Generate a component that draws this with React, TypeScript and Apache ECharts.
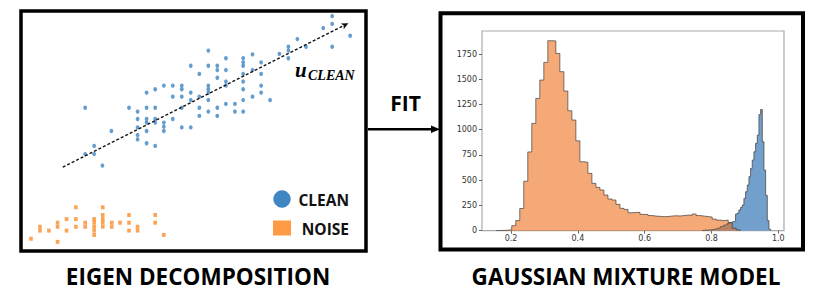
import React, { useEffect, useRef } from "react";
import * as echarts from "echarts";

// ---- Left panel: eigen decomposition scatter (feature space units 0..100) ----
const cleanX = [90.2, 90.2, 87.6, 95.4, 90.2, 80.1, 82.6, 77.5, 77.5, 74.9, 77.5, 54.3, 59.4, 64.4, 67.1, 64.4, 64.4, 69.6, 49.2, 54.3, 56.9, 56.9, 59.4, 67.1, 51.7, 56.9, 64.4, 69.6, 59.4, 64.4, 41.4, 44.0, 46.6, 46.6, 54.3, 54.3, 49.2, 59.4, 69.6, 36.4, 38.9, 54.3, 64.4, 69.6, 44.0, 46.6, 49.2, 51.7, 54.3, 67.1, 72.2, 64.4, 18.6, 31.3, 36.4, 38.9, 46.6, 51.7, 56.9, 59.4, 62.0, 62.0, 64.4, 33.8, 33.8, 36.4, 38.9, 41.4, 44.0, 36.4, 51.7, 54.3, 56.9, 46.6, 49.2, 33.8, 33.8, 33.8, 36.4, 38.9, 41.4, 41.4, 26.2, 36.4, 38.9, 21.2, 18.6, 21.2, 23.6];
const cleanY = [97.9, 94.6, 92.9, 89.7, 85.1, 88.3, 85.1, 85.1, 83.5, 82.1, 80.3, 83.5, 80.3, 80.3, 81.9, 78.6, 77.2, 78.6, 77.2, 77.2, 77.2, 75.4, 75.4, 75.4, 73.8, 72.2, 73.8, 73.8, 70.6, 70.6, 68.9, 68.9, 68.9, 67.4, 68.9, 67.4, 66.0, 68.9, 68.9, 66.0, 67.4, 66.0, 67.4, 66.0, 64.3, 64.3, 62.9, 64.3, 62.9, 64.3, 62.9, 62.9, 59.7, 59.7, 59.7, 59.7, 59.7, 59.7, 59.7, 61.3, 61.3, 58.1, 58.1, 58.1, 55.0, 55.0, 55.0, 53.5, 55.0, 53.5, 56.3, 58.1, 56.3, 51.5, 51.5, 51.5, 48.3, 46.5, 50.0, 53.5, 51.8, 50.0, 50.0, 44.9, 43.8, 43.8, 40.4, 40.4, 35.6];
const noiseX = [2.9, 5.5, 5.5, 8.1, 10.6, 10.6, 10.6, 13.2, 13.2, 15.9, 15.9, 15.9, 18.6, 18.6, 21.2, 21.2, 21.2, 21.2, 21.2, 23.7, 23.7, 23.7, 23.7, 23.7, 26.3, 26.3, 28.7, 31.3, 31.3, 31.3, 33.8, 33.8, 38.9, 38.9, 41.4];
const noiseY = [5.1, 10.1, 8.5, 8.5, 11.8, 10.1, 3.8, 13.3, 8.5, 18.2, 13.3, 10.1, 11.8, 10.1, 13.3, 11.8, 10.1, 8.5, 6.7, 18.2, 15.0, 13.3, 11.8, 10.1, 11.8, 10.1, 11.8, 15.0, 11.8, 8.5, 10.1, 8.5, 15.0, 11.8, 6.7];
const eigenStart = [12.1, 34.9];
const eigenEnd = [94.9, 94.9];
const eigenLabel = "u";
const eigenSub = "CLEAN";
const legendLabels = ["CLEAN", "NOISE"];

// ---- Right panel: Gaussian mixture histogram ----
const noiseBinStart = 0.154;
const noiseBinWidth = 0.012;
const noiseCounts = [2, 3, 4, 10, 50, 100, 220, 490, 780, 1063, 1310, 1492, 1667, 1882, 1880, 1756, 1575, 1383, 1188, 1096, 890, 683, 677, 568, 469, 429, 403, 353, 314, 304, 261, 221, 211, 178, 180, 182, 162, 160, 150, 145, 142, 139, 140, 145, 148, 146, 150, 155, 152, 165, 150, 145, 140, 135, 115, 105, 100, 105, 80, 25, 8];
const cleanBinStart = 0.772;
const cleanBinWidth = 0.005;
const cleanCounts = [3, 4, 5, 6, 8, 10, 12, 15, 20, 25, 32, 40, 46, 55, 62, 70, 79, 86, 89, 95, 165, 175, 205, 230, 254, 320, 386, 452, 535, 617, 700, 782, 865, 947, 1150, 1200, 880, 600, 350, 100, 15];
const xTicks = [0.2, 0.4, 0.6, 0.8, 1.0];
const yTicks = [0, 250, 500, 750, 1000, 1250, 1500, 1750];

const titles = ["EIGEN DECOMPOSITION", "GAUSSIAN MIXTURE MODEL"];
const fitLabel = "FIT";

function stepData(start: number, width: number, counts: number[]) {
  const pts: number[][] = [[start, 0]];
  counts.forEach((c, i) => pts.push([+(start + i * width).toFixed(4), c]));
  pts.push([+(start + counts.length * width).toFixed(4), 0]);
  return pts;
}

const zip = (xs: number[], ys: number[]) => xs.map((x, i) => [x, ys[i]]);

export default function App() {
  const ref = useRef<HTMLDivElement>(null);
  useEffect(() => {
    if (!ref.current) return;
    const chart = echarts.init(ref.current, null, { renderer: "svg" });
    const sans = "Open Sans";
    const option: any = {
      animation: false,
      backgroundColor: "#ffffff",
      grid: [
        { left: 21, top: 11, width: 345, height: 240, show: false },
        { left: 482, top: 31, width: 302, height: 199.7, show: true, borderColor: "#aaaaaa", borderWidth: 1.2, backgroundColor: "transparent" },
      ],
      xAxis: [
        { type: "value", gridIndex: 0, min: 0, max: 100, show: false },
        {
          type: "value", gridIndex: 1, min: 0.113, max: 1.017,
          axisLine: { show: false }, splitLine: { show: false },
          axisTick: { show: true, customValues: xTicks, length: 3, lineStyle: { color: "#444", width: 0.8 } },
          axisLabel: { customValues: xTicks, formatter: (v: number) => v.toFixed(1), fontSize: 8, color: "#333", fontFamily: "DejaVu Sans", margin: 4 },
        },
      ],
      yAxis: [
        { type: "value", gridIndex: 0, min: 0, max: 100, show: false },
        {
          type: "value", gridIndex: 1, min: 0, max: 1978,
          axisLine: { show: false }, splitLine: { show: false },
          axisTick: { show: true, customValues: yTicks, length: 3, lineStyle: { color: "#444", width: 0.8 } },
          axisLabel: { customValues: yTicks, formatter: (v: number) => String(v), fontSize: 8, color: "#333", fontFamily: "DejaVu Sans", margin: 5 },
        },
      ],
      series: [
        {
          name: legendLabels[0], type: "scatter", xAxisIndex: 0, yAxisIndex: 0,
          data: zip(cleanX, cleanY), symbol: "circle", symbolSize: [3.8, 4.4],
          itemStyle: { color: "#3E86C2" },
          markLine: {
            silent: true, symbol: ["none", "arrow"], symbolSize: [5, 7],
            lineStyle: { type: [3, 2], color: "#111", width: 1.4 },
            label: { show: false },
            data: [[{ coord: eigenStart }, { coord: eigenEnd }]],
          },
        },
        {
          name: legendLabels[1], type: "scatter", xAxisIndex: 0, yAxisIndex: 0,
          data: zip(noiseX, noiseY), symbol: "rect", symbolSize: [3.6, 4],
          itemStyle: { color: "#FB8C2C" },
        },
        {
          name: "clean-hist", type: "line", xAxisIndex: 1, yAxisIndex: 1, step: "end",
          data: stepData(cleanBinStart, cleanBinWidth, cleanCounts), showSymbol: false, symbol: "none",
          lineStyle: { color: "#4a4a4a", width: 0.8 }, areaStyle: { color: "#729FCB", opacity: 1 },
        },
        {
          name: "noise-hist", type: "line", xAxisIndex: 1, yAxisIndex: 1, step: "end",
          data: stepData(noiseBinStart, noiseBinWidth, noiseCounts), showSymbol: false, symbol: "none",
          lineStyle: { color: "rgba(60,60,60,0.85)", width: 0.8 }, areaStyle: { color: "rgba(236,112,28,0.6)", opacity: 1 },
        },
      ],
      graphic: [
        { type: "rect", shape: { x: 21, y: 11, width: 345, height: 240 }, style: { fill: "none", stroke: "#000", lineWidth: 3.5 } },
        { type: "rect", shape: { x: 440.5, y: 13.3, width: 362.5, height: 236.2 }, style: { fill: "none", stroke: "#000", lineWidth: 4 } },
        { type: "line", shape: { x1: 368, y1: 129.2, x2: 433, y2: 129.2 }, style: { stroke: "#000", lineWidth: 2.6 } },
        { type: "polygon", shape: { points: [[431, 125.4], [440, 129.2], [431, 133]] }, style: { fill: "#000" } },
        { type: "text", x: 405.5, y: 102.5, style: { text: fitLabel, fill: "#000", fontSize: 21, fontWeight: "bold", fontFamily: sans, align: "center", verticalAlign: "middle" } },
        { type: "circle", shape: { cx: 282, cy: 199, r: 8.7 }, style: { fill: "#3F87C2" } },
        { type: "rect", shape: { x: 273, y: 220.5, width: 18, height: 15 }, style: { fill: "#FF9B45" } },
        { type: "text", x: 349, y: 199.5, style: { text: legendLabels[0], fill: "#111", fontSize: 15.5, fontWeight: "bold", fontFamily: sans, align: "right", verticalAlign: "middle" } },
        { type: "text", x: 349, y: 229, style: { text: legendLabels[1], fill: "#111", fontSize: 15.5, fontWeight: "bold", fontFamily: sans, align: "right", verticalAlign: "middle" } },
        { type: "text", x: 295, y: 70, style: { text: eigenLabel, fill: "#000", fontSize: 21, fontWeight: "bold", fontStyle: "italic", fontFamily: "Liberation Serif", align: "left", verticalAlign: "middle" } },
        { type: "text", x: 308, y: 75.5, style: { text: eigenSub, fill: "#000", fontSize: 14, fontWeight: "bold", fontStyle: "italic", fontFamily: "Liberation Serif", align: "left", verticalAlign: "middle" } },
        { type: "text", x: 198, y: 276.5, style: { text: titles[0], fill: "#000", fontSize: 22.5, fontWeight: "bold", fontFamily: sans, align: "center", verticalAlign: "middle" } },
        { type: "text", x: 626, y: 276, style: { text: titles[1], fill: "#000", fontSize: 22.5, fontWeight: "bold", fontFamily: sans, align: "center", verticalAlign: "middle" } },
      ],
    };
    chart.setOption(option);
    return () => chart.dispose();
  }, []);
  return <div ref={ref} style={{ position: "fixed", left: 0, top: 0, width: 830, height: 295 }} />;
}
